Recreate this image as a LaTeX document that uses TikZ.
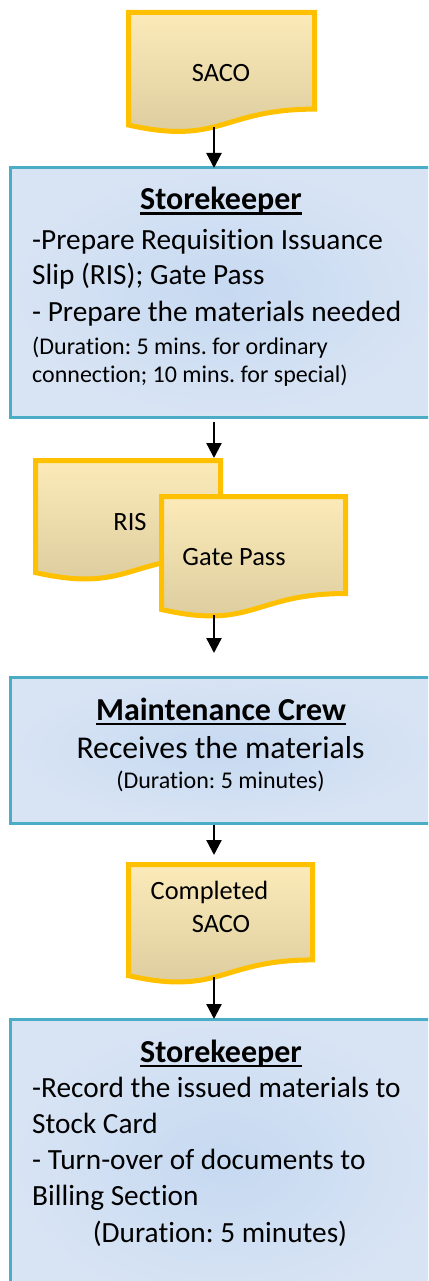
\documentclass[tikz,border=0pt]{standalone}
\usepackage{fontspec}
\setmainfont{Carlito}[Ligatures=NoCommon]
\usetikzlibrary{arrows.meta}
\frenchspacing

\definecolor{docline}{HTML}{FFC000}
\definecolor{doctop}{HTML}{FCEBB9}
\definecolor{docbot}{HTML}{DACA9C}
\definecolor{boxline}{HTML}{4BACC6}
\definecolor{boxin}{HTML}{C6D9F1}
\definecolor{boxout}{HTML}{D8E4F4}

% underlined heading word with the rule at a fixed depth below the baseline
\newcommand\ulword[1]{\setbox0\hbox{#1}\rlap{\rule[-5pt]{\wd0}{2.5pt}}\box0}

% document symbol: top-left corner (#1,#2), width #3, height #4
\newcommand\docpath[4]{(#1,#2) -- ({#1+#3},#2) -- ({#1+#3},{#2+0.802*#4})
  .. controls ({#1+0.5*#3},{#2+0.802*#4}) and ({#1+0.5*#3},{#2+1.107*#4}) ..
  (#1,{#2+0.934*#4}) -- cycle}

\tikzset{
  docbox/.style={draw=docline, line width=5pt, top color=doctop, bottom color=docbot},
  stepbox/.style={draw=boxline, line width=3pt, inner color=boxin, outer color=boxout,
    inner sep=0pt, outer sep=0pt, anchor=north west, minimum width=430pt},
  flow/.style={line width=2.3pt, -{Triangle[width=15pt,length=15pt]}},
  headtext/.style={font=\bfseries\fontsize{32}{38}\selectfont, inner sep=0pt, anchor=base},
  bodytext/.style={font=\fontsize{29.3}{35}\selectfont, inner sep=0pt, anchor=base west},
  bodymid/.style={font=\fontsize{31.7}{38}\selectfont, inner sep=0pt, anchor=base},
  smalltext/.style={font=\fontsize{24}{29}\selectfont, inner sep=0pt, anchor=base west},
  doctext/.style={font=\fontsize{26.4}{32}\selectfont, inner sep=0pt, anchor=base},
}

\begin{document}
\begin{tikzpicture}[x=1pt, y=-1pt]
\useasboundingbox (0,0) rectangle (428,1281);
\clip (0,0) rectangle (428,1281);

% SACO document
\path[docbox] \docpath{128.5}{12.5}{186}{120.5};
\node[doctext] (saco) at (221,82) {SACO};
\coordinate (sacoB) at (214,127);

% first storekeeper step
\node[stepbox, minimum height=249pt] (box1) at (10,168) {};
\node[headtext] (b1h) at (221,210) {\ulword{Storekeeper}};
\node[bodytext] (b1a) at (32,249) {-Prepare Requisition Issuance};
\node[bodytext] (b1b) at (32,284) {Slip (RIS); Gate Pass};
\node[bodytext] (b1c) at (32,321) {- Prepare the materials needed};
\node[smalltext] (b1d) at (32,354) {(Duration: 5 mins. for ordinary};
\node[smalltext] (b1e) at (32,382) {connection; 10 mins. for special)};

% RIS and Gate Pass documents
\path[docbox] \docpath{35.5}{460.5}{185}{120};
\node[doctext] (ris) at (130,530) {RIS};
\coordinate (risT) at (214,460.5);
\path[docbox] \docpath{161.5}{496.5}{184}{121};
\node[doctext] (gate) at (234,565) {Gate Pass};
\coordinate (gateB) at (214,615);

% maintenance crew step
\node[stepbox, minimum height=146pt] (box2) at (10,677) {};
\node[headtext] (b2h) at (221,720) {\ulword{Maintenance Crew}};
\node[bodymid] (b2a) at (220.5,758) {Receives the materials};
\node[smalltext, anchor=base] (b2b) at (220.5,788) {(Duration: 5 minutes)};

% completed SACO document
\path[docbox] \docpath{128.5}{864.5}{184}{119};
\node[doctext] (comp1) at (209.5,899) {Completed};
\node[doctext] (comp2) at (221,932) {SACO};
\coordinate (compT) at (214,864.5);
\coordinate (compB) at (214,977);

% final storekeeper step
\node[stepbox, minimum height=290pt] (box3) at (10,1019) {};
\node[headtext] (b3h) at (221,1062) {\ulword{Storekeeper}};
\node[bodytext] (b3a) at (32,1097) {-Record the issued materials to};
\node[bodytext] (b3b) at (32,1133) {Stock Card};
\node[bodytext] (b3c) at (32,1169) {- Turn-over of documents to};
\node[bodytext] (b3d) at (32,1205) {Billing Section};
\node[bodytext, anchor=base] (b3e) at (220,1242) {(Duration: 5 minutes)};

% connectors
\draw[flow] (sacoB) -- (sacoB |- box1.north);
\draw[flow, shorten <=5pt, shorten >=2.5pt] (box1.south -| risT) -- (risT);
\draw[flow, shorten >=24pt] (gateB) -- (gateB |- box2.north);
\draw[flow, shorten <=2pt, shorten >=9.5pt] (box2.south -| compT) -- (compT);
\draw[flow] (compB) -- (compB |- box3.north);
\end{tikzpicture}
\end{document}
